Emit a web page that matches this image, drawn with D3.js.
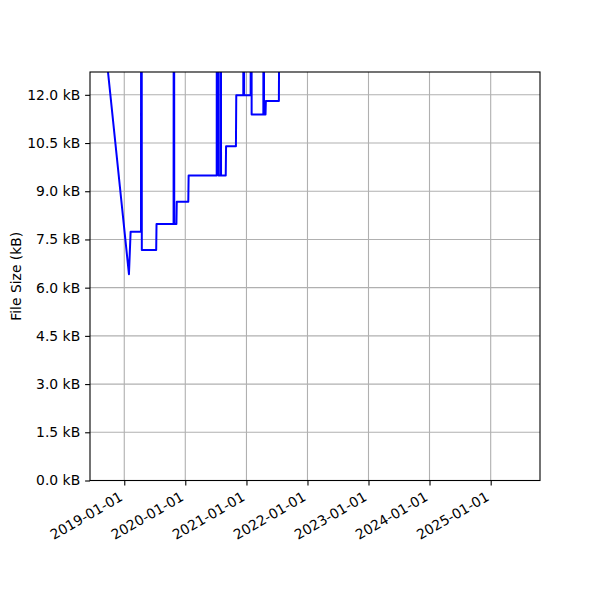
<!DOCTYPE html>
<html>
<head>
<meta charset="utf-8">
<script src="https://cdn.jsdelivr.net/npm/d3@7"></script>
<style>
  body { margin: 0; background: #fff; }
  svg { display: block; font-family: "DejaVu Sans", sans-serif; }
</style>
</head>
<body>
<svg id="chart" width="600" height="600"></svg>
<script>
const dates = [
  "2018-09-02", "2019-01-29", "2019-02-08", "2019-04-11", "2019-04-12", "2019-04-15", "2019-04-16",
  "2019-07-11", "2019-07-13", "2019-10-23", "2019-10-24", "2019-10-26", "2019-10-27", "2019-11-09",
  "2019-11-11", "2020-01-19", "2020-01-21", "2020-07-07", "2020-07-08", "2020-07-17", "2020-07-18",
  "2020-07-31", "2020-08-01", "2020-08-02", "2020-08-30", "2020-09-01", "2020-10-30",
  "2020-11-01", "2020-12-13", "2020-12-14", "2020-12-17", "2020-12-18", "2021-01-26", "2021-01-27",
  "2021-01-31", "2021-02-01", "2021-04-12", "2021-04-13", "2021-04-15", "2021-04-16", "2021-04-25",
  "2021-04-27", "2021-07-14", "2021-07-16", "2022-03-01", "2023-01-15", "2024-02-01", "2025-03-05"
];
const sizes = [
  13.9, 6.42, 7.74, 7.74, 20, 20, 7.17,
  7.17, 7.98, 7.98, 20, 20, 7.98, 7.98,
  8.67, 8.67, 9.49, 9.49, 20, 20, 9.49,
  9.49, 20, 9.49, 9.49, 10.40, 10.40,
  11.99, 11.99, 20, 20, 11.99, 11.99, 20,
  20, 11.39, 11.39, 20, 20, 11.39, 11.39,
  11.81, 11.81, 14.5, 15.2, 16.8, 18.1, 19.0
];
const yTicks = [0, 1.5, 3.0, 4.5, 6.0, 7.5, 9.0, 10.5, 12.0];
const xTickLabels = ["2019-01-01", "2020-01-01", "2021-01-01", "2022-01-01", "2023-01-01", "2024-01-01", "2025-01-01"];
const xDomain = ["2018-06-10", "2025-10-23"];
const yDomain = [0, 12.71];
const yLabel = "File Size (kB)";

const parse = d3.utcParse("%Y-%m-%d");
const data = dates.map((d, i) => ({ t: parse(d), v: sizes[i] }));

const L = 90, R = 540, T = 72, B = 480.5;
const svg = d3.select("#chart");
const x = d3.scaleUtc().domain(xDomain.map(parse)).range([L, R]);
const y = d3.scaleLinear().domain(yDomain).range([B, T]);

const fs = 13.9;

// grid
const grid = svg.append("g");
grid.selectAll(".gx").data(xTickLabels).join("line")
  .attr("x1", d => x(parse(d))).attr("x2", d => x(parse(d)))
  .attr("y1", T).attr("y2", B)
  .attr("stroke", "#b0b0b0").attr("stroke-width", 1.1);
grid.selectAll(".gy").data(yTicks).join("line")
  .attr("x1", L).attr("x2", R)
  .attr("y1", d => y(d)).attr("y2", d => y(d))
  .attr("stroke", "#b0b0b0").attr("stroke-width", 1.1);

// clip
svg.append("clipPath").attr("id", "clip").append("rect")
  .attr("x", L).attr("y", T).attr("width", R - L).attr("height", B - T);

const line = d3.line().x(d => x(d.t)).y(d => y(d.v));
svg.append("path").datum(data)
  .attr("clip-path", "url(#clip)")
  .attr("fill", "none").attr("stroke", "#0000ff").attr("stroke-width", 2.0)
  .attr("stroke-linejoin", "round").attr("stroke-linecap", "square")
  .attr("d", line);

// frame
svg.append("rect").attr("x", L).attr("y", T).attr("width", R - L).attr("height", B - T)
  .attr("fill", "none").attr("stroke", "#000").attr("stroke-width", 1.1);

// y axis
const yAxis = d3.axisLeft(y).tickValues(yTicks).tickSize(4.9).tickPadding(4.9)
  .tickFormat(d => d3.format(".1f")(d) + " kB");
const gy = svg.append("g").attr("transform", `translate(${L},0)`).call(yAxis);
gy.select(".domain").remove();
gy.selectAll(".tick line").attr("stroke", "#000").attr("stroke-width", 1.1);
gy.selectAll(".tick text").attr("font-size", fs).attr("fill", "#000")
  .attr("font-family", "DejaVu Sans");

// x axis
const xAxis = d3.axisBottom(x).tickValues(xTickLabels.map(parse)).tickSize(4.9).tickPadding(4.9)
  .tickFormat(d3.utcFormat("%Y-%m-%d"));
const gx = svg.append("g").attr("transform", `translate(0,${B})`).call(xAxis);
gx.select(".domain").remove();
gx.selectAll(".tick line").attr("stroke", "#000").attr("stroke-width", 1.1);
gx.selectAll(".tick text")
  .attr("font-size", fs).attr("fill", "#000").attr("font-family", "DejaVu Sans")
  .attr("text-anchor", "end")
  .attr("y", 0).attr("dy", "0.78em")
  .attr("transform", "translate(-6.5,9.8) rotate(-30)");

// y label
svg.append("text")
  .attr("transform", `translate(21,${(T + B) / 2}) rotate(-90)`)
  .attr("text-anchor", "middle")
  .attr("font-size", fs).attr("font-family", "DejaVu Sans").attr("fill", "#000")
  .text(yLabel);
</script>
</body>
</html>
